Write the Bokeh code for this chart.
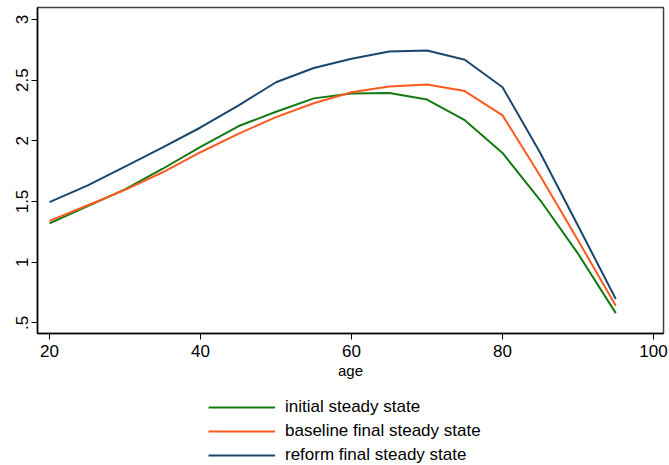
from bokeh.plotting import figure
from bokeh.layouts import column
from bokeh.models import Range1d, FixedTicker, Legend, LegendItem
from bokeh.embed import file_html
from bokeh.resources import INLINE

age = [20, 25, 30, 35, 40, 45, 50, 55, 60, 65, 70, 75, 80, 85, 90, 95]
initial_ss = [1.32, 1.46, 1.60, 1.77, 1.95, 2.12, 2.24, 2.35, 2.39, 2.395, 2.34, 2.17, 1.90, 1.51, 1.07, 0.58]
baseline_final_ss = [1.34, 1.467, 1.596, 1.741, 1.906, 2.058, 2.195, 2.31, 2.40, 2.448, 2.464, 2.41, 2.21, 1.71, 1.18, 0.64]
reform_final_ss = [1.495, 1.631, 1.788, 1.947, 2.11, 2.29, 2.483, 2.60, 2.676, 2.736, 2.744, 2.668, 2.442, 1.90, 1.30, 0.697]

series_names = ["initial steady state", "baseline final steady state", "reform final steady state"]
series_colors = ["#137a13", "#ff5a1e", "#1a476f"]
series_values = [initial_ss, baseline_final_ss, reform_final_ss]

x_ticks = [20, 40, 60, 80, 100]
y_ticks = [0.5, 1, 1.5, 2, 2.5, 3]
y_tick_labels = [".5", "1", "1.5", "2", "2.5", "3"]

FONT = "Liberation Sans"

p = figure(frame_width=626, frame_height=326, output_backend="svg", toolbar_location=None,
           x_range=Range1d(18.41, 101.32), y_range=Range1d(0.412, 3.099),
           min_border_left=37, min_border_right=6, min_border_top=7, min_border_bottom=47)

p.xgrid.visible = False
p.ygrid.visible = False
p.outline_line_color = "#404040"
p.outline_line_width = 1.5

for vals, c in zip(series_values, series_colors):
    p.line(age, vals, line_color=c, line_width=2)

for ax in (p.xaxis[0], p.yaxis[0]):
    ax.axis_line_color = "black"
    ax.axis_line_width = 1.5
    ax.major_tick_line_color = "black"
    ax.major_tick_out = 6
    ax.major_tick_in = 0
    ax.minor_tick_line_color = None
    ax.major_label_text_font = FONT
    ax.major_label_text_font_size = "17px"
    ax.major_label_text_color = "black"

p.xaxis.ticker = FixedTicker(ticks=x_ticks)
p.xaxis.major_label_standoff = 5
p.xaxis.axis_label = "age"
p.xaxis.axis_label_text_font = FONT
p.xaxis.axis_label_text_font_size = "15px"
p.xaxis.axis_label_text_font_style = "normal"
p.xaxis.axis_label_text_color = "black"
p.xaxis.axis_label_standoff = 2

p.yaxis.ticker = FixedTicker(ticks=y_ticks)
p.yaxis.major_label_overrides = {t: l for t, l in zip(y_ticks, y_tick_labels)}
p.yaxis.major_label_orientation = "vertical"
p.yaxis.major_label_standoff = 3

# legend strip below the chart
lg = figure(width=669, height=85, output_backend="svg", toolbar_location=None,
            x_range=Range1d(0, 1), y_range=Range1d(0, 1),
            x_axis_type=None, y_axis_type=None,
            min_border_left=0, min_border_right=0, min_border_top=0, min_border_bottom=0)
lg.xgrid.visible = False
lg.ygrid.visible = False
lg.outline_line_color = None

renderers = []
for vals, c in zip(series_values, series_colors):
    renderers.append(lg.line(age, vals, line_color=c, line_width=2))

legend = Legend(items=[LegendItem(label=n, renderers=[r]) for n, r in zip(series_names, renderers)],
                orientation="vertical", location=(171, 1))
legend.label_text_font = FONT
legend.label_text_font_size = "17px"
legend.label_text_color = "black"
legend.glyph_width = 67
legend.glyph_height = 20
legend.label_height = 20
legend.label_standoff = 10
legend.spacing = 4
legend.padding = 0
legend.margin = 0
legend.border_line_color = None
legend.background_fill_alpha = 0
lg.add_layout(legend, "center")

layout = column(p, lg, spacing=0)
open("out.html", "w").write(file_html(layout, INLINE))
